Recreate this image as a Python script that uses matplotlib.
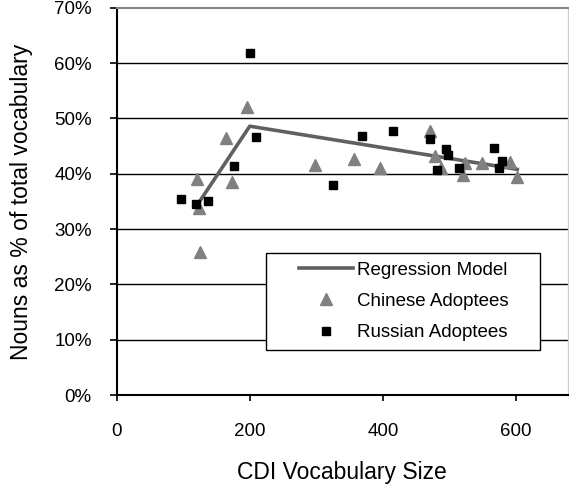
import matplotlib
matplotlib.use("Agg")
import matplotlib.pyplot as plt
from matplotlib.patches import Rectangle
from matplotlib.ticker import FuncFormatter

plt.rcParams['font.family'] = ['Liberation Sans', 'DejaVu Sans']

# values (x = CDI vocabulary size, y = nouns in %)
chinese_x = [196, 165, 173, 120, 123.5, 126, 297.5, 356.5, 396, 471, 479, 487.5, 524, 520.5, 549, 591, 601]
chinese_y = [52.0, 46.5, 38.5, 39.0, 33.9, 25.8, 41.5, 42.6, 41.1, 47.8, 43.2, 41.1, 42.0, 39.7, 41.9, 42.1, 39.4]

russian_x = [200, 210, 176, 96.5, 118.5, 137.5, 325, 368, 416, 471, 481, 495, 498.5, 514.5, 567.5, 579.5, 574]
russian_y = [61.8, 46.6, 41.4, 35.4, 34.5, 35.1, 37.9, 46.9, 47.7, 46.3, 40.6, 44.4, 43.4, 41.1, 44.6, 42.3, 41.1]

model_x = [123, 200, 602]
model_y = [34.7, 48.6, 40.8]

x_ticks = [0, 200, 400, 600]
y_ticks = [0, 10, 20, 30, 40, 50, 60, 70]

fig = plt.figure(figsize=(5.69, 4.86), dpi=100)
ax = fig.add_axes([0.205, 0.187, 0.793, 0.797])

# horizontal grid lines
for v in y_ticks[1:-1]:
    ax.axhline(v, color='black', lw=1.0, zorder=1)

ax.plot(model_x, model_y, color='#606060', lw=2.6, zorder=2, label='Regression Model')
ax.plot(chinese_x, chinese_y, ls='none', marker='^', ms=8.5, color='#808080',
        mec='#808080', zorder=3, label='Chinese Adoptees')
ax.plot(russian_x, russian_y, ls='none', marker='s', ms=6.2, color='black',
        zorder=4, label='Russian Adoptees')

ax.set_xlim(0, 678)
ax.set_ylim(0, 70)
ax.set_xticks(x_ticks)
ax.set_yticks(y_ticks)
ax.yaxis.set_major_formatter(FuncFormatter(lambda v, p: '%d%%' % v))

ax.tick_params(axis='y', direction='out', length=5, width=1.2, pad=13, labelsize=13.5)
ax.tick_params(axis='x', direction='out', length=4, width=1.2, pad=16, labelsize=13.5)

ax.spines['left'].set_linewidth(1.5)
ax.spines['bottom'].set_linewidth(1.5)
ax.spines['top'].set_color('#888888')
ax.spines['top'].set_linewidth(1.5)
ax.spines['right'].set_color('#cccccc')
ax.spines['right'].set_linewidth(1.0)

ax.set_xlabel('CDI Vocabulary Size', fontsize=16.5, labelpad=15)
ax.set_ylabel('Nouns as % of total vocabulary', fontsize=16.5, labelpad=15)

# legend with a separate box
box = Rectangle((0.332, 0.116), 0.607, 0.252, transform=ax.transAxes,
                facecolor='white', edgecolor='black', lw=1.0, zorder=5)
ax.add_patch(box)
leg = ax.legend(loc='center', bbox_to_anchor=(0.332 + 0.607 / 2, 0.116 + 0.252 / 2),
                frameon=False, fontsize=13.5, handlelength=2.9, handletextpad=0.2,
                labelspacing=0.75, borderpad=0)
leg.set_zorder(6)

fig.savefig('out.png', dpi=100)
